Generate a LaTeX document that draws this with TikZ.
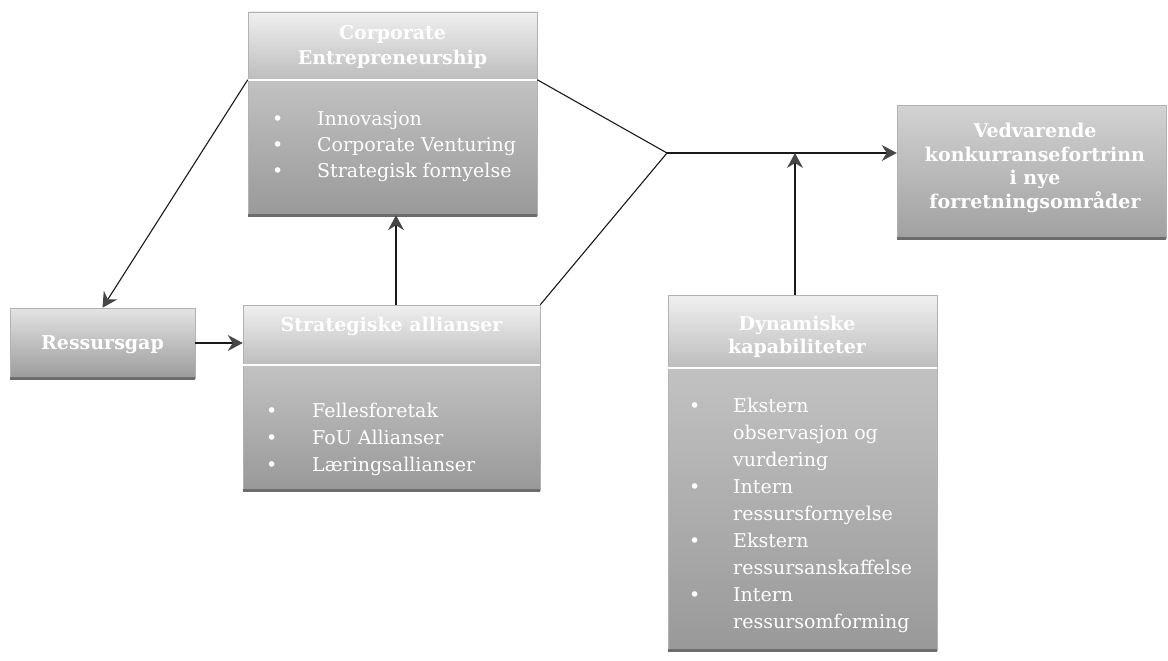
\documentclass[tikz,border=0pt]{standalone}
\usepackage{fontspec}
\setmainfont{DejaVu Serif}
\usetikzlibrary{arrows.meta}

\tikzset{
  panel/.style 2 args={rectangle, inner sep=0pt, minimum width=#1, minimum height=#2,
    draw=gray!60, line width=0.5pt},
  headpart/.style={top color=gray!12, bottom color=gray!52},
  bodypart/.style={top color=gray!48, bottom color=gray!80},
  solopart/.style={top color=gray!22, bottom color=gray!78},
  title/.style={text=white, font=\bfseries\fontsize{19}{25}\selectfont, align=center, inner sep=0pt},
  list/.style={text=white, font=\fontsize{19}{26}\selectfont, anchor=base west, inner sep=0pt},
  edge/.style={draw=gray!85!black, line width=3pt},
  divider/.style={draw=white, line width=1.6pt},
  link/.style={draw=gray!20!black, line width=1.1pt},
  arrow/.style={link, -{Stealth[length=15pt, width=16pt, inset=5pt, color=gray!55!black]}},
}

\begin{document}
\begin{tikzpicture}[x=1pt, y=-1pt]
  \useasboundingbox (0,0) rectangle (1168,661);

  % Corporate Entrepreneurship
  \node[panel={289pt}{68pt}, headpart] (cehead) at (392.5,46) {};
  \node[panel={289pt}{135pt}, bodypart] (cebody) at (392.5,147.5) {};
  \draw[edge] (cebody.south west) -- (cebody.south east);
  \draw[divider] (cehead.south west) -- (cehead.south east);
  \node[title] (cetitle) at (392.5,47) {Corporate\\Entrepreneurship};
  \node[list] (celist) at (272,125) {\begin{tabular}[t]{@{}p{45pt}@{}l@{}}
      \textbullet & Innovasjon\\
      \textbullet & Corporate Venturing\\
      \textbullet & Strategisk fornyelse
    \end{tabular}};

  % Ressursgap
  \node[panel={185pt}{70pt}, solopart] (rg) at (102.5,343) {};
  \draw[edge] (rg.south west) -- (rg.south east);
  \node[title] (rgtitle) at (102.5,345) {Ressursgap};

  % Strategiske allianser
  \node[panel={297pt}{60pt}, headpart] (sahead) at (391.5,335) {};
  \node[panel={297pt}{125pt}, bodypart] (sabody) at (391.5,427.5) {};
  \draw[edge] (sabody.south west) -- (sabody.south east);
  \draw[divider] (sahead.south west) -- (sahead.south east);
  \node[title] (satitle) at (391.5,326) {Strategiske allianser};
  \node[list, font=\fontsize{19}{27}\selectfont] (salist) at (266,417) {\begin{tabular}[t]{@{}p{46pt}@{}l@{}}
      \textbullet & Fellesforetak\\
      \textbullet & FoU Allianser\\
      \textbullet & Læringsallianser
    \end{tabular}};

  % Dynamiske kapabiliteter
  \node[panel={269pt}{73pt}, headpart] (dynhead) at (802.5,331.5) {};
  \node[panel={269pt}{282pt}, bodypart] (dynbody) at (802.5,509) {};
  \draw[edge] (dynbody.south west) -- (dynbody.south east);
  \draw[divider] (dynhead.south west) -- (dynhead.south east);
  \node[title, font=\bfseries\fontsize{19}{23}\selectfont] (dyntitle) at (797,337) {Dynamiske\\kapabiliteter};
  \node[list, font=\fontsize{19}{27.1}\selectfont] (dynlist) at (689,412) {\begin{tabular}[t]{@{}p{44pt}@{}l@{}}
      \textbullet & Ekstern\\
                  & observasjon og\\
                  & vurdering\\
      \textbullet & Intern\\
                  & ressursfornyelse\\
      \textbullet & Ekstern\\
                  & ressursanskaffelse\\
      \textbullet & Intern\\
                  & ressursomforming
    \end{tabular}};

  % Vedvarende konkurransefortrinn
  \node[panel={269pt}{133pt}, solopart, top color=gray!35, bottom color=gray!74] (ved) at (1031.5,171.5) {};
  \draw[edge] (ved.south west) -- (ved.south east);
  \node[title, font=\bfseries\fontsize{19}{23.5}\selectfont] (vedtitle) at (1035,168) {Vedvarende\\konkurransefortrinn\\i nye\\forretningsområder};

  % Connectors
  \coordinate (J) at (667,153);
  \draw[arrow] (cebody.north west) -- (rg.north);
  \draw[arrow] (rg.east) -- (rg.east -| sahead.west);
  \draw[arrow] ([xshift=4.5pt]sahead.north) -- ([xshift=4.5pt]sahead.north |- cebody.south);
  \draw[link] (cebody.north east) -- (J);
  \draw[link] (sahead.north east) -- (J);
  \draw[arrow] (J) -- (J -| ved.west);
  \draw[arrow] ([xshift=-7.5pt]dynhead.north) -- ([xshift=-7.5pt]dynhead.north |- J);
\end{tikzpicture}
\end{document}
